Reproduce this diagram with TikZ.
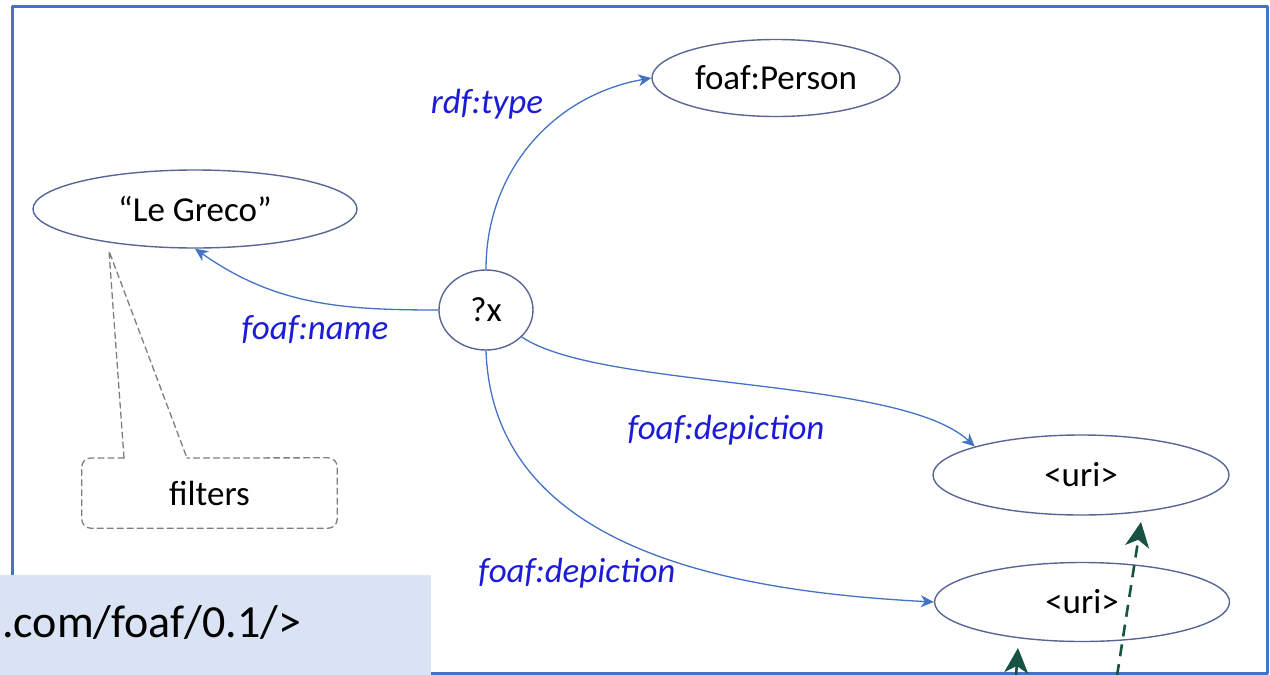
\documentclass[tikz,border=0pt]{standalone}
\usepackage{fontspec}
\setmainfont{Carlito}
\usetikzlibrary{arrows.meta,shapes.geometric}
\definecolor{edgeblue}{RGB}{68,114,196}
\definecolor{ellblue}{RGB}{88,102,150}
\definecolor{lblblue}{RGB}{28,28,215}
\definecolor{notegray}{RGB}{125,125,135}
\definecolor{hintgreen}{RGB}{24,82,66}
\definecolor{prefixfill}{RGB}{218,227,243}
\begin{document}
\begin{tikzpicture}[x=1pt,y=-1pt,line join=round,line cap=round,>={Stealth[length=13pt,width=12pt,inset=4pt]}]
    \tikzset{res/.style={ellipse,draw=ellblue,line width=1.4pt,inner sep=0pt,font=\fontsize{35}{42}\selectfont},
             pred/.style={text=lblblue,font=\fontsize{35}{42}\selectfont\itshape},
             link/.style={->,draw=edgeblue,line width=1.3pt},
             hint/.style={->,draw=hintgreen,line width=2.6pt,line cap=butt,>={Stealth[length=25pt,width=24pt,inset=7pt]}}}
    \useasboundingbox (0,0) rectangle (1270,675);
    \draw[draw=edgeblue,line width=3pt] (12,6) rectangle (1267,673);
    \node[res,minimum width=248pt,minimum height=77pt] (person) at (776,78) {foaf:Person};
    \node[res,minimum width=324pt,minimum height=78pt] (greco) at (195,209) {“Le Greco”};
    \node[res,minimum width=94pt,minimum height=80pt] (qx) at (486,310) {?x};
    \node[res,minimum width=296pt,minimum height=80pt] (uritop) at (1081,475) {<uri>};
    \node[res,minimum width=295pt,minimum height=79pt] (uribot) at (1082,602) {<uri>};
    \node[font=\fontsize{35}{42}\selectfont,minimum width=255pt,minimum height=70pt,inner sep=0pt] (filters) at (209.5,493) {filters};
    \draw[link] (qx.north) to[out=90,in=190] (person.west);
    \draw[link] (qx.west) to[out=180,in=-35] (greco.south);
    \draw[link] (qx.-37) .. controls +(78,53) and +(-75,-70) .. (uritop.165);
    \draw[link] (qx.south) to[out=-88,in=177] (uribot.west);
    \node[pred] (ltype) at (487,104) {rdf:type};
    \node[pred] (lname) at (315,330) {foaf:name};
    \node[pred] (ldepa) at (726,430) {foaf:depiction};
    \node[pred] (ldepb) at (577,573) {foaf:depiction};
    \coordinate (fl) at (124,458);
    \coordinate (fr) at (187,458);
    \coordinate (ftip) at (109,251);
    \draw[draw=notegray,line width=1.3pt,dash pattern=on 6pt off 4pt,rounded corners=9pt] (fl) -| (filters.south west) -| (filters.north east) -- (fr);
    \draw[draw=notegray,line width=1.3pt,dash pattern=on 6pt off 4pt] (fl) -- (ftip) -- (fr);
    \fill[prefixfill] (0,575) rectangle (431,675);
    \node[anchor=base west,inner sep=0pt,font=\fontsize{46}{54}\selectfont] (prefix) at (2,637) {.com/foaf/0.1/>};
    \coordinate (hsa) at (1016,676);
    \coordinate (hta) at (1018,648);
    \coordinate (hsb) at (1117,676);
    \coordinate (htb) at (1141,522);
    \draw[hint] (hsa) -- (hta);
    \draw[hint,dash pattern=on 12pt off 8pt] (hsb) -- (htb);
\end{tikzpicture}
\end{document}
